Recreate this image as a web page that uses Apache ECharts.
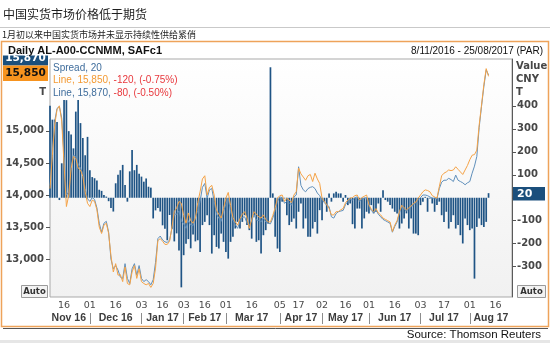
<!DOCTYPE html>
<html>
<head>
<meta charset="utf-8">
<script src="https://cdn.jsdelivr.net/npm/echarts@6/dist/echarts.min.js"></script>
<style>
html,body{margin:0;padding:0;background:#fff;}
#chart{width:550px;height:343px;}
</style>
</head>
<body>
<div id="chart"></div>
<script>
// ---- trading calendar (SHFE sessions) ----
const firstDay = '2016-11-08';
const lastDay = '2017-08-25';
const holidays = ['2017-01-02','2017-01-27','2017-01-30','2017-01-31','2017-02-01','2017-02-02',
  '2017-04-03','2017-04-04','2017-05-01','2017-05-29','2017-05-30'];

// day-of-month tick labels (first row) and month labels (second row)
const dayTickDates = ['2016-11-16','2016-12-01','2016-12-16','2017-01-03','2017-01-16','2017-02-03',
  '2017-02-16','2017-03-01','2017-03-16','2017-04-05','2017-04-17','2017-05-02','2017-05-16',
  '2017-06-01','2017-06-16','2017-07-03','2017-07-17','2017-08-01','2017-08-16'];
const monthNames = ['Nov 16','Dec 16','Jan 17','Feb 17','Mar 17','Apr 17','May 17','Jun 17','Jul 17','Aug 17'];

// left axis (CNY/T) and right axis (spread) tick values
const priceTicks = [13000, 13500, 14000, 14500, 15000];
const spreadTicks = [-300, -200, -100, 0, 100, 200, 300, 400];

// spread, CNY/T
const spread = [
  400, 340, 340, 330, -10, 150, 425, 425, 290, 275,
  215, 375, 425, 325, 260, 185, 265, 120, 90, 85,
  75, 35, 30, 12, 5, -15, -45, -60, 63, 100,
  120, 143, 55, -17, 115, 208, 120, 143, 105, 92,
  70, 84, 48, 44, -90, -55, -45, -60, -120, -135,
  -185, -75, -135, -190, -155, -230, -390, -250, -200, -180,
  -220, -160, -190, -185, -236, -119, -105, -76, -119, -243,
  -163, -214, -221, -156, -192, -236, -265, -192, -170, -134,
  -105, -134, -105, -76, -119, -141, -178, -76, -192, -185,
  -243, -163, -141, -112, 568, 19, -170, -221, -236, -17,
  -3, -76, -119, -105, -90, -134, -61, -25, -134, -90,
  -170, -170, -134, -105, -156, -54, -98, -17, -61, 19,
  -17, 19, 26, 19, 19, -17, 12, -32, -25, -115,
  -134, -47, -47, -134, -90, -61, -68, -32, -68, -61,
  -25, -61, 33, -10, -17, -32, -47, -61, -68, -134,
  -112, -90, -68, -134, -90, -156, -156, -163, -32, -17,
  4, -61, -3, -25, -61, -32, -17, -76, -105, -61,
  -134, -105, -76, -134, -119, -163, -199, -90, -119, -141,
  -134, -352, -127, -90, -119, -127, -105, 20
];

// SAFc1 (orange line), CNY/T
const futuresLine = [
  14100, 14620, 15090, 15330, 15390, 15150, 14470, 13820, 14000, 14410,
  14600, 14570, 14420, 14390, 14290, 14050, 13870, 13820, 13920, 13900,
  13770, 13500, 13400, 13530, 13560, 13400, 13050, 12800, 12930, 12750,
  12760, 12650, 12880, 12620, 12600, 12800, 12900, 12700, 12850, 12650,
  12620, 12600, 12620, 12560, 12620, 12860, 13290, 13320, 13280, 13230,
  13230, 13280, 13500, 13740, 13800, 13900, 13870, 13680, 13560, 13720,
  13600, 13560, 13640, 13880, 14050, 14250, 14300, 14000, 14120, 14150,
  14000, 13760, 13700, 13640, 13790, 13950, 14040, 13840, 13650, 13580,
  13530, 13630, 13700, 13740, 13640, 13480, 13620, 13740, 13700, 13660,
  13640, 13690, 13620, 13580, 13580, 13680, 13800, 13950, 13990, 14000,
  13900, 13950, 13920, 13880, 14000, 14050, 14420, 14330, 14280, 14230,
  14300, 14320, 14210, 14340, 14250, 14180, 13950, 13900, 13850, 13790,
  13690, 13690, 13740, 13740, 13770, 13790, 13880, 13920, 13950, 13960,
  13990, 14000, 13920, 13960, 13980, 14000, 13850, 13780, 13740, 13790,
  13720, 13690, 13640, 13620, 13600, 13580, 13430, 13530, 13600, 13740,
  13840, 13800, 13770, 13800, 13830, 13870, 13890, 13950, 14000, 14050,
  14080, 14070, 14050, 13990, 13970, 13950, 14130, 14300, 14340, 14360,
  14390, 14380, 14390, 14440, 14400, 14360, 14320, 14390, 14460, 14550,
  14620, 14630, 14700, 15090, 15400, 15720, 15970, 15850
];

// AL-A00-CCNMM (blue line), CNY/T
const spotLine = [
  14150, 14700, 15150, 15350, 15380, 15200, 14600, 14000, 14050, 14450,
  14620, 14600, 14480, 14420, 14330, 14100, 13940, 13900, 13960, 13930,
  13800, 13560, 13420, 13560, 13590, 13420, 13000, 12850, 12900, 12830,
  12720, 12700, 12930, 12700, 12620, 12850, 12930, 12750, 12900, 12700,
  12650, 12680, 12650, 12600, 12680, 12950, 13320, 13360, 13300, 13270,
  13260, 13300, 13480, 13700, 13700, 13750, 13600, 13550, 13480, 13600,
  13530, 13520, 13640, 13760, 13900, 14120, 14180, 13950, 14080, 14100,
  13900, 13700, 13640, 13590, 13740, 13860, 13950, 13740, 13600, 13540,
  13480, 13590, 13650, 13660, 13560, 13530, 13600, 13690, 13610, 13600,
  13580, 13640, 13580, 13560, 13550, 13640, 13760, 13900, 13970, 13960,
  13870, 13900, 13880, 13840, 13970, 14000, 14440, 14150, 14080, 14050,
  14100, 14120, 14130, 14100, 14030, 13990, 13920, 13880, 13840, 13820,
  13660, 13640, 13710, 13740, 13750, 13760, 13850, 13900, 13930, 13920,
  13960, 13970, 13900, 13940, 13950, 13960, 13830, 13760, 13720, 13770,
  13700, 13660, 13620, 13600, 13580, 13560, 13420, 13510, 13580, 13720,
  13820, 13780, 13750, 13790, 13810, 13850, 13880, 13920, 13960, 14000,
  14000, 13990, 13970, 13950, 13950, 13940, 14100, 14200, 14230, 14230,
  14260, 14240, 14210, 14310, 14230, 14210, 14190, 14160, 14190, 14210,
  14340, 14450, 14600, 15050, 15380, 15690, 15950, 15870
];

// ---- helpers ----
function tradingDays(from, to, skip) {
  const out = [];
  const d = new Date(from + 'T00:00:00Z');
  const end = new Date(to + 'T00:00:00Z');
  while (d <= end) {
    const wd = d.getUTCDay();
    const s = d.toISOString().slice(0, 10);
    if (wd !== 0 && wd !== 6 && skip.indexOf(s) < 0) out.push(s);
    d.setUTCDate(d.getUTCDate() + 1);
  }
  return out;
}
const fmt = v => v.toLocaleString('en-US');
const signed = v => (v > 0 ? '+' : '') + fmt(v);

const dates = tradingDays(firstDay, lastDay, holidays);

// month boundaries and month label positions
const monthStart = new Set();
const monthMid = {};
{
  let start = 0, m = 0;
  for (let i = 1; i <= dates.length; i++) {
    if (i === dates.length || dates[i].slice(0, 7) !== dates[i - 1].slice(0, 7)) {
      monthMid[Math.round((start + i - 1) / 2)] = monthNames[m++];
      if (i < dates.length) monthStart.add(i);
      start = i;
    }
  }
}
const dayTickSet = new Set(dayTickDates.map(d => dates.indexOf(d)));

// latest readings for the value tags
const n = spread.length;
const lastSpread = spread[n - 1];
const futLast = futuresLine[n - 1], futChg = futLast - futuresLine[n - 2];
const spotLast = spotLine[n - 1], spotChg = spotLast - spotLine[n - 2];
const pct = (chg, last) => '(' + (chg / (last - chg) * 100).toFixed(2) + '%)';

const NAVY = '#1b4f7c';
const ORANGE = '#f5a347';
const STEEL = '#5f8fbb';
const AXIS_TXT = '#474747';

const chart = echarts.init(document.getElementById('chart'), null, {renderer: 'canvas'});

const numFont = {fontFamily: 'DejaVu Sans', fontWeight: 'bold', fontSize: 10, color: AXIS_TXT};

chart.setOption({
  animation: false,
  backgroundColor: '#ffffff',
  grid: {
    left: 50, right: 38, top: 59, bottom: 46,
    show: true,
    borderColor: '#a9a9a9',
    borderWidth: 1,
    backgroundColor: {
      type: 'linear', x: 0, y: 0, x2: 0, y2: 1,
      colorStops: [{offset: 0, color: '#ffffff'}, {offset: 1, color: '#f1f1f1'}]
    },
    outerBoundsMode: 'none'
  },
  xAxis: [{
    type: 'category',
    data: dates,
    boundaryGap: false,
    axisLine: {show: false},
    axisTick: {show: false},
    splitLine: {show: false},
    axisLabel: {
      interval: i => dayTickSet.has(i),
      formatter: v => v.slice(8),
      margin: 4,
      fontFamily: 'DejaVu Sans', fontSize: 9.5, color: '#4a4a4a'
    }
  }, {
    type: 'category',
    data: dates,
    boundaryGap: false,
    position: 'bottom',
    offset: 16,
    axisLine: {show: false},
    axisTick: {
      show: true, length: 11,
      interval: i => monthStart.has(i),
      lineStyle: {color: '#8c8c8c', width: 1}
    },
    splitLine: {show: false},
    axisLabel: {
      interval: i => monthMid[i] !== undefined,
      formatter: (v, i) => monthMid[i] || '',
      margin: 0,
      fontFamily: 'Liberation Sans', fontWeight: 'bold', fontSize: 10.5, color: '#3d3d3d'
    }
  }],
  yAxis: [{
    type: 'value',
    position: 'left',
    min: 12410, max: 16120,
    splitLine: {show: false},
    axisLine: {show: false},
    axisTick: {show: true, length: 4, customValues: priceTicks, lineStyle: {color: '#555'}},
    axisLabel: Object.assign({customValues: priceTicks, formatter: v => fmt(v), margin: 6}, numFont)
  }, {
    type: 'value',
    position: 'right',
    min: -432, max: 604,
    splitLine: {show: false},
    axisLine: {show: true, lineStyle: {color: '#5a5a5a', width: 1}},
    axisTick: {show: true, length: 4, customValues: spreadTicks, lineStyle: {color: '#555'}},
    axisLabel: Object.assign({customValues: spreadTicks, formatter: v => String(v), margin: 5}, numFont)
  }],
  series: [{
    name: 'Spread',
    type: 'bar',
    xAxisIndex: 0,
    yAxisIndex: 1,
    data: spread,
    barWidth: 1.7,
    itemStyle: {color: '#1f5485'},
    z: 2
  }, {
    name: 'AL-A00-CCNMM',
    type: 'line',
    yAxisIndex: 0,
    data: spotLine,
    showSymbol: false,
    lineStyle: {color: STEEL, width: 1},
    z: 3
  }, {
    name: 'SAFc1',
    type: 'line',
    yAxisIndex: 0,
    data: futuresLine,
    showSymbol: false,
    lineStyle: {color: ORANGE, width: 1},
    z: 4
  }],
  graphic: [
    // page heading
    {type: 'text', x: 3, y: 14, z: 10, style: {text: '中国实货市场价格低于期货', fontFamily: 'Noto Sans CJK SC', fontSize: 12, fill: '#1e1e1e', verticalAlign: 'middle'}},
    {type: 'line', z: 10, shape: {x1: 0, y1: 27.5, x2: 550, y2: 27.5}, style: {stroke: '#c9c9c9', lineWidth: 1}},
    {type: 'text', x: 2, y: 35, z: 10, style: {text: '1月初以来中国实货市场并未显示持续性供给紧俏', fontFamily: 'Noto Sans CJK SC', fontSize: 9, fill: '#1e1e1e', verticalAlign: 'middle'}},

    // chart panel frame
    {type: 'rect', z: 1, shape: {x: 1.5, y: 41.5, width: 547, height: 285}, style: {fill: 'none', stroke: '#eea35a', lineWidth: 1.5}},

    // latest value tags on the left
    {type: 'rect', z: 20, shape: {x: 3, y: 50, width: 45, height: 15.5}, style: {fill: NAVY}},
    {type: 'text', x: 25.5, y: 58, z: 21, style: {text: fmt(spotLast), fontFamily: 'DejaVu Sans', fontWeight: 'bold', fontSize: 10.5, fill: '#ffffff', align: 'center', verticalAlign: 'middle'}},
    {type: 'rect', z: 20, shape: {x: 3, y: 65.5, width: 45, height: 15.5}, style: {fill: '#f7931e'}},
    {type: 'text', x: 25.5, y: 73.5, z: 21, style: {text: fmt(futLast), fontFamily: 'DejaVu Sans', fontWeight: 'bold', fontSize: 10.5, fill: '#111111', align: 'center', verticalAlign: 'middle'}},
    {type: 'text', x: 46, y: 92, z: 21, style: {text: 'T', fontFamily: 'DejaVu Sans', fontWeight: 'bold', fontSize: 10, fill: AXIS_TXT, align: 'right', verticalAlign: 'middle'}},

    // header strip of the panel
    {type: 'rect', z: 30, shape: {x: 3, y: 43, width: 544, height: 12.5}, style: {fill: '#ffffff'}},
    {type: 'text', x: 8, y: 51, z: 31, style: {text: 'Daily AL-A00-CCNMM, SAFc1', fontFamily: 'Liberation Sans', fontWeight: 'bold', fontSize: 11, fill: '#111111', verticalAlign: 'middle'}},
    {type: 'text', x: 543, y: 51.5, z: 31, style: {text: '8/11/2016 - 25/08/2017 (PAR)', fontFamily: 'Liberation Sans', fontSize: 10, fill: '#111111', align: 'right', verticalAlign: 'middle'}},

    // unit captions on the right
    {type: 'text', x: 516, y: 66, z: 21, style: {text: 'Value', fontFamily: 'DejaVu Sans', fontWeight: 'bold', fontSize: 10, fill: AXIS_TXT, verticalAlign: 'middle'}},
    {type: 'text', x: 516, y: 79, z: 21, style: {text: 'CNY', fontFamily: 'DejaVu Sans', fontWeight: 'bold', fontSize: 10, fill: AXIS_TXT, verticalAlign: 'middle'}},
    {type: 'text', x: 516, y: 92, z: 21, style: {text: 'T', fontFamily: 'DejaVu Sans', fontWeight: 'bold', fontSize: 10, fill: AXIS_TXT, verticalAlign: 'middle'}},

    // latest spread tag on the right axis
    {type: 'rect', z: 20, shape: {x: 513, y: 187, width: 32, height: 13.5}, style: {fill: NAVY}},
    {type: 'text', x: 517, y: 194, z: 21, style: {text: String(lastSpread), fontFamily: 'DejaVu Sans', fontWeight: 'bold', fontSize: 11, fill: '#ffffff', verticalAlign: 'middle'}},

    // series readout
    {type: 'text', x: 53, y: 68, z: 21, style: {text: 'Spread, ' + fmt(lastSpread), fontFamily: 'Liberation Sans', fontSize: 10, fill: '#3f6d9c', verticalAlign: 'middle'}},
    {type: 'text', x: 53, y: 80.5, z: 21, style: {
      text: '{a|Line, ' + fmt(futLast) + ', }{b|' + signed(futChg) + ', ' + pct(futChg, futLast) + '}',
      verticalAlign: 'middle',
      rich: {a: {fontFamily: 'Liberation Sans', fontSize: 10, fill: '#f39a33'}, b: {fontFamily: 'Liberation Sans', fontSize: 10, fill: '#e8383d'}}
    }},
    {type: 'text', x: 53, y: 93, z: 21, style: {
      text: '{a|Line, ' + fmt(spotLast) + ', }{b|' + signed(spotChg) + ', ' + pct(spotChg, spotLast) + '}',
      verticalAlign: 'middle',
      rich: {a: {fontFamily: 'Liberation Sans', fontSize: 10, fill: '#3f6d9c'}, b: {fontFamily: 'Liberation Sans', fontSize: 10, fill: '#e8383d'}}
    }},

    // scale buttons
    {type: 'rect', z: 20, shape: {x: 21.5, y: 285.5, width: 26, height: 12}, style: {fill: '#f3f3f3', stroke: '#9a9a9a', lineWidth: 1}},
    {type: 'text', x: 34.5, y: 291.5, z: 21, style: {text: 'Auto', fontFamily: 'DejaVu Sans', fontWeight: 'bold', fontSize: 8.5, fill: '#333', align: 'center', verticalAlign: 'middle'}},
    {type: 'rect', z: 20, shape: {x: 517.5, y: 285.5, width: 28, height: 12}, style: {fill: '#f3f3f3', stroke: '#9a9a9a', lineWidth: 1}},
    {type: 'text', x: 531.5, y: 291.5, z: 21, style: {text: 'Auto', fontFamily: 'DejaVu Sans', fontWeight: 'bold', fontSize: 8.5, fill: '#333', align: 'center', verticalAlign: 'middle'}},

    // source footer
    {type: 'line', z: 10, shape: {x1: 3, y1: 328.5, x2: 548, y2: 328.5}, style: {stroke: '#555555', lineWidth: 1}},
    {type: 'rect', z: 10, shape: {x: 0, y: 340, width: 550, height: 3}, style: {fill: '#e6e6e6'}},
    {type: 'text', x: 541, y: 334.5, z: 11, style: {text: 'Source: Thomson Reuters', fontFamily: 'Liberation Sans', fontSize: 11.5, fill: '#111111', align: 'right', verticalAlign: 'middle'}}
  ]
});
</script>
</body>
</html>
